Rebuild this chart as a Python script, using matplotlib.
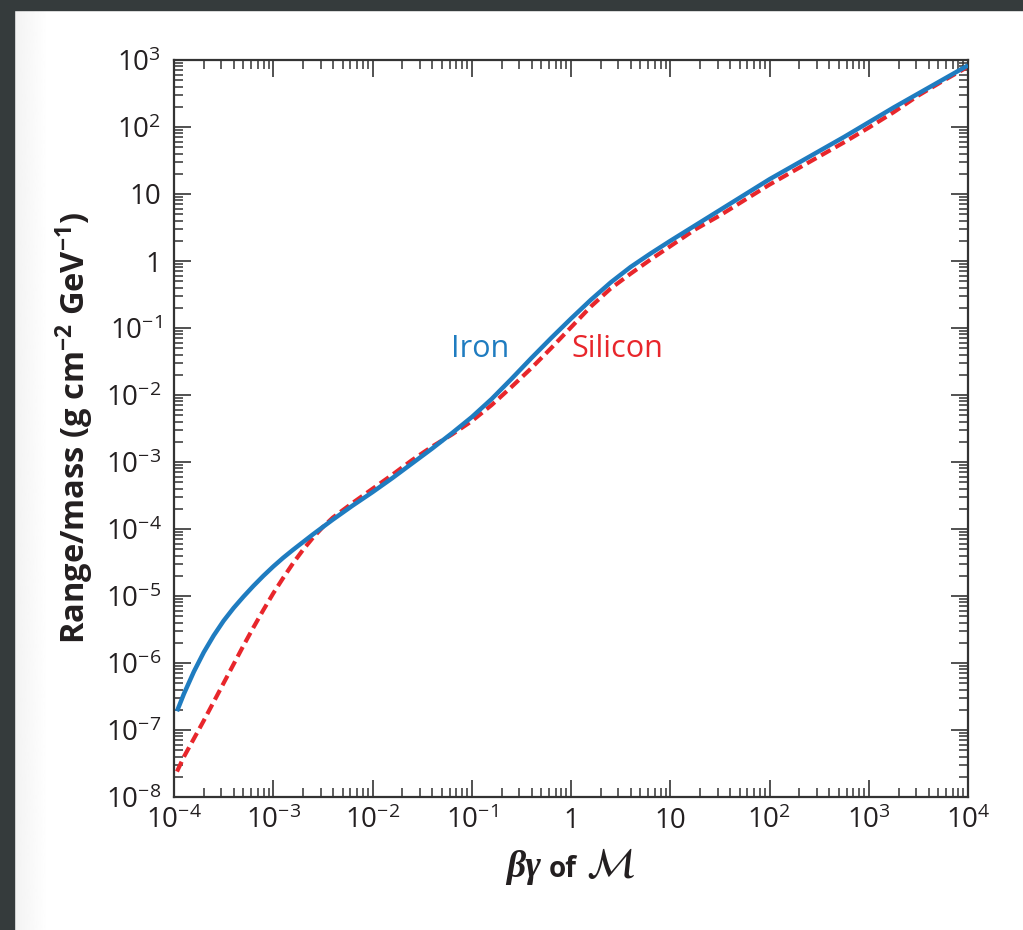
import numpy as np
import matplotlib
matplotlib.use('Agg')
import matplotlib.pyplot as plt
from matplotlib.patches import Rectangle
from matplotlib.ticker import LogLocator, NullFormatter

# log10(beta*gamma) and log10(range/mass)
iron_log_bg = [-3.97, -3.90, -3.80, -3.70, -3.60, -3.50, -3.40, -3.30, -3.20, -3.10,
               -3.00, -2.90, -2.80, -2.60, -2.40, -2.20, -2.00, -1.80, -1.60, -1.40,
               -1.20, -1.00, -0.80, -0.60, -0.40, -0.20, 0.00, 0.20, 0.40, 0.60,
               0.80, 1.00, 1.25, 1.50, 1.75, 2.00, 2.25, 2.50, 2.75, 3.00,
               3.25, 3.50, 3.75, 4.00]
iron_log_range = [-6.72, -6.46, -6.13, -5.84, -5.59, -5.37, -5.18, -5.01, -4.85, -4.70,
                  -4.56, -4.43, -4.31, -4.08, -3.86, -3.65, -3.45, -3.24, -3.02, -2.80,
                  -2.57, -2.33, -2.06, -1.76, -1.45, -1.15, -0.86, -0.58, -0.32, -0.09,
                  0.11, 0.30, 0.53, 0.76, 0.99, 1.22, 1.43, 1.64, 1.85, 2.07,
                  2.29, 2.50, 2.71, 2.92]

silicon_log_bg = [-3.97, -3.90, -3.80, -3.70, -3.60, -3.50, -3.40, -3.30, -3.20, -3.10,
                  -3.00, -2.90, -2.80, -2.70, -2.60, -2.50, -2.40, -2.20, -2.00, -1.80,
                  -1.60, -1.40, -1.20, -1.00, -0.80, -0.60, -0.40, -0.20, 0.00, 0.20,
                  0.40, 0.60, 0.80, 1.00, 1.25, 1.50, 1.75, 2.00, 2.25, 2.50,
                  2.75, 3.00, 3.25, 3.50, 3.75, 4.00]
silicon_log_range = [-7.62, -7.40, -7.13, -6.86, -6.58, -6.30, -6.02, -5.74, -5.47, -5.21,
                     -4.96, -4.73, -4.51, -4.31, -4.13, -3.97, -3.83, -3.61, -3.40, -3.19,
                     -2.97, -2.77, -2.59, -2.39, -2.15, -1.88, -1.60, -1.30, -0.99, -0.68,
                     -0.41, -0.19, 0.02, 0.22, 0.47, 0.68, 0.91, 1.14, 1.35, 1.56,
                     1.77, 1.99, 2.22, 2.47, 2.69, 2.90]

x_ticks = [1e-4, 1e-3, 1e-2, 1e-1, 1, 10, 1e2, 1e3, 1e4]
x_tick_labels = ['$10^{-4}$', '$10^{-3}$', '$10^{-2}$', '$10^{-1}$', '1', '10',
                 '$10^{2}$', '$10^{3}$', '$10^{4}$']
y_ticks = [1e-8, 1e-7, 1e-6, 1e-5, 1e-4, 1e-3, 1e-2, 1e-1, 1, 10, 1e2, 1e3]
y_tick_labels = ['$10^{-8}$', '$10^{-7}$', '$10^{-6}$', '$10^{-5}$', '$10^{-4}$',
                 '$10^{-3}$', '$10^{-2}$', '$10^{-1}$', '1', '10', '$10^{2}$', '$10^{3}$']

BLUE = '#1f7cc0'
RED = '#e8262b'
INK = '#231f20'

plt.rcParams['font.family'] = ['Open Sans', 'DejaVu Sans']
plt.rcParams['mathtext.fontset'] = 'custom'
plt.rcParams['mathtext.rm'] = 'Open Sans'
plt.rcParams['mathtext.it'] = 'Open Sans:italic'
plt.rcParams['mathtext.bf'] = 'Open Sans:bold'

W, H = 1023, 930
fig = plt.figure(figsize=(W / 100, H / 100), dpi=100)
fig.patch.set_facecolor('white')

# dark page border and the faint strip next to it
fig.patches.append(Rectangle((0, 1 - 10 / H), 1, 10 / H, transform=fig.transFigure,
                             color='#353b3c', zorder=0))
fig.patches.append(Rectangle((0, 0), 14 / W, 1, transform=fig.transFigure,
                             color='#353b3c', zorder=0))
strip = fig.add_axes([14 / W, 0, 34 / W, 1 - 10 / H], zorder=-1)
strip.imshow(np.linspace(0.95, 1.0, 64)[None, :], cmap='gray', vmin=0, vmax=1,
             aspect='auto', interpolation='bilinear')
strip.axis('off')

ax = fig.add_axes([174 / W, 133 / H, 794 / W, 737 / H])
ax.set_xscale('log')
ax.set_yscale('log')

ax.plot(10 ** np.array(silicon_log_bg), 10 ** np.array(silicon_log_range),
        color=RED, lw=3.0, dashes=(2.6, 1.3), zorder=2)
ax.plot(10 ** np.array(iron_log_bg), 10 ** np.array(iron_log_range),
        color=BLUE, lw=3.2, solid_capstyle='butt', solid_joinstyle='round', zorder=3)

ax.set_xlim(1e-4, 1e4)
ax.set_ylim(1e-8, 1e3)

ax.set_xticks(x_ticks)
ax.set_xticklabels(x_tick_labels)
ax.set_yticks(y_ticks)
ax.set_yticklabels(y_tick_labels)
ax.xaxis.set_minor_locator(LogLocator(base=10, subs=np.arange(2, 10), numticks=20))
ax.yaxis.set_minor_locator(LogLocator(base=10, subs=np.arange(2, 10), numticks=20))
ax.xaxis.set_minor_formatter(NullFormatter())
ax.yaxis.set_minor_formatter(NullFormatter())

ax.tick_params(which='both', direction='in', top=True, right=True, colors='#333333')
ax.tick_params(which='major', length=12, width=1.2, labelsize=20, labelcolor=INK)
ax.tick_params(which='minor', length=6.5, width=1.1)
ax.tick_params(axis='x', which='major', pad=7)
ax.tick_params(axis='y', which='major', pad=9)
for sp in ax.spines.values():
    sp.set_linewidth(1.6)
    sp.set_color('#333333')

ax.text(0.121, 10 ** -1.31, 'Iron', color=BLUE, fontsize=22, ha='center', va='center')
ax.text(2.9, 10 ** -1.31, 'Silicon', color=RED, fontsize=22, ha='center', va='center')

fig.text(75 / W, 1 - 428 / H,
         r'Range/mass (g cm$^{\mathbf{-2}}$ GeV$^{\mathbf{-1}}$)',
         rotation=90, fontsize=23.5, fontweight='bold', color=INK,
         ha='center', va='center')

# x label assembled from three pieces: bold-italic Greek, bold "of", script M
base_y = 1 - 877 / H
fig.text(506 / W, base_y, 'βγ', family=['Liberation Serif', 'DejaVu Serif'],
         fontsize=27, fontweight='bold', fontstyle='italic', color=INK, va='baseline')
fig.text(549 / W, base_y, 'of', fontsize=20, fontweight='bold', color=INK, va='baseline')
fig.text(586 / W, base_y, r'$\mathcal{M}$', math_fontfamily='stix', fontsize=30,
         color=INK, va='baseline')

fig.savefig('out.png', dpi=100, facecolor=fig.get_facecolor())
